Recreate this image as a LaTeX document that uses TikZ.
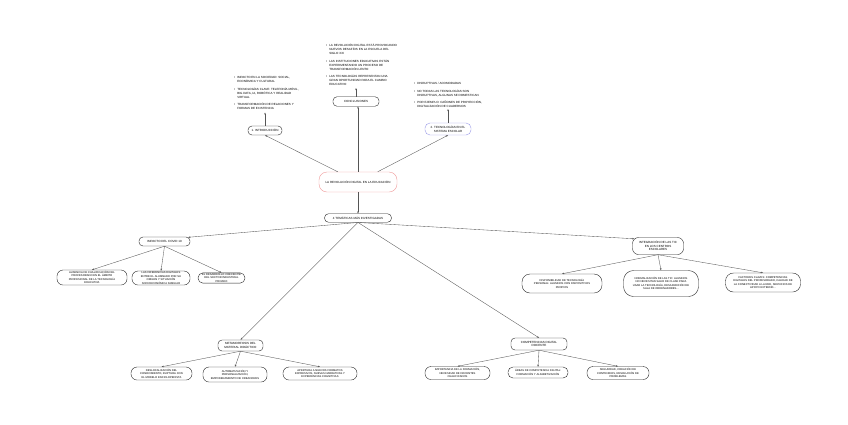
\documentclass[tikz,border=0pt]{standalone}
\usepackage{fontspec}
\setmainfont{Liberation Sans}
\usetikzlibrary{arrows.meta,calc}
\newcommand{\tfont}{\fontsize{3}{3.7}\selectfont}
\newcommand{\cfont}{\fontsize{2.7}{3.4}\selectfont}
\newcommand{\bfont}{\fontsize{3}{4}\selectfont}
\definecolor{pinkc}{HTML}{F09A9A}
\definecolor{lavc}{HTML}{9A9AE8}
\definecolor{linec}{HTML}{555555}
\begin{document}
\begin{tikzpicture}[x=1pt,y=-1pt,
  box/.style={draw=black!85, line width=0.4pt, fill=white, rounded corners=4pt, align=center, font=\tfont, inner sep=0.8pt},
  kid/.style={box, font=\cfont},
  con/.style={draw=linec, line width=0.35pt, -{Stealth[length=2.2pt,width=1.6pt]}},
  blist/.style={anchor=north west, inner sep=0pt, font=\bfont, align=left}]
\useasboundingbox (0,0) rectangle (848,424);
\fill[white] (0,0) rectangle (848,424);

% central
\node[box, draw=pinkc, minimum width=78, minimum height=20, rounded corners=8pt] (c) at (358,182) {LA REVOLUCIÓN DIGITAL EN LA EDUCACIÓN};
\node[box, minimum width=67, minimum height=8.5] (t) at (358,218) {4 TEMÁTICAS MÁS INVESTIGADAS};

% top
\node[box, minimum width=34, minimum height=9] (intro) at (265,130.5) {1. INTRODUCCIÓN};
\node[box, minimum width=46, minimum height=9.5] (concl) at (356,101.5) {CONCLUSIONES};
\node[box, draw=lavc, minimum width=46, minimum height=12, rounded corners=5pt] (tec) at (448,129) {2. TECNOLOGÍAS EN EL\\SISTEMA ESCOLAR};

% bullet lists
\node[blist] (introB) at (234,75) {\begin{tabular}{@{}l@{\hspace{2pt}}l@{}}
\textbullet & IMPACTO EN LA SOCIEDAD: SOCIAL,\\
 & ECONÓMICA Y CULTURAL\\[4pt]
\textbullet & TECNOLOGÍAS CLAVE: TELEFONÍA MÓVIL,\\
 & BIG DATA, IA, ROBÓTICA Y REALIDAD\\
 & VIRTUAL\\[3pt]
\textbullet & TRANSFORMACIÓN DE RELACIONES Y\\
 & FORMAS DE EXISTENCIA
\end{tabular}};
\node[blist] (conclB) at (326,43) {\begin{tabular}{@{}l@{\hspace{2pt}}l@{}}
\textbullet & LA REVOLUCIÓN DIGITAL ESTÁ PROVOCANDO\\
 & NUEVOS DESAFÍOS EN LA ESCUELA DEL\\
 & SIGLO XXI\\[4pt]
\textbullet & LAS INSTITUCIONES EDUCATIVAS ESTÁN\\
 & EXPERIMENTANDO UN PROCESO DE\\
 & TRANSFORMACIÓN LENTO\\[3.5pt]
\textbullet & LAS TECNOLOGÍAS REPRESENTAN UNA\\
 & GRAN OPORTUNIDAD PARA EL CAMBIO\\
 & EDUCATIVO
\end{tabular}};
\node[blist] (tecB) at (414,81) {\begin{tabular}{@{}l@{\hspace{2pt}}l@{}}
\textbullet & DISRUPTIVAS / ACOMODADAS\\[4pt]
\textbullet & NO TODAS LAS TECNOLOGÍAS SON\\
 & DISRUPTIVAS, ALGUNAS SE DOMESTICAN\\[3pt]
\textbullet & POR EJEMPLO: CAÑONES DE PROYECCIÓN,\\
 & DIGITALIZACIÓN DE CUADERNOS
\end{tabular}};
\coordinate (introT) at (265,112.5);
\coordinate (conclT) at (356,88);
\coordinate (tecT) at (448,109);

% four themes
\node[box, minimum width=51, minimum height=9] (covid) at (164.5,241.5) {IMPACTO DEL COVID 19};
\node[box, minimum width=51, minimum height=17, rounded corners=6pt] (integ) at (658,246) {INTEGRACIÓN DE LAS TIC\\EN LOS CENTROS\\ESCOLARES};
\node[box, minimum width=45, minimum height=11] (meta) at (240.5,345.5) {METAMORFOSIS DEL\\MATERIAL DIDÁCTICO};
\node[box, minimum width=56, minimum height=12] (comp) at (539,344) {COMPETENCIAS DIGITAL\\DOCENTE};

% covid children
\node[kid, minimum width=70, minimum height=15, rounded corners=6pt] (cv1) at (92,277.5) {AUSENCIA DE CUALIFICACIÓN DEL\\PROFESORADO EN EL ÁMBITO\\PROFESIONAL DE LA TECNOLOGÍA\\EDUCATIVA};
\node[kid, minimum width=58, minimum height=14, rounded corners=6pt] (cv2) at (161,278) {LAS DIFERENCIAS DIGITALES\\ENTRE EL ALUMNADO POR SU\\ORIGEN Y SITUACIÓN\\SOCIOECONÓMICA FAMILIAR};
\node[kid, minimum width=47, minimum height=10, rounded corners=5pt] (cv3) at (221.5,278) {EL DESARROLLO CRECIENTE\\DEL SECTOR INDUSTRIAL\\PRIVADO};

% integ children
\node[kid, minimum width=80, minimum height=19, rounded corners=8pt] (in1) at (562,283.5) {DISPONIBILIDAD DE TECNOLOGÍA\\PERSONAL: ALUMNOS CON DISPOSITIVOS\\PROPIOS};
\node[kid, minimum width=75, minimum height=26, rounded corners=10pt] (in2) at (661,283.5) {NORMALIZACIÓN DE LAS TIC: ALUMNOS\\NO NECESITAN SALIR DE CLASE PARA\\USAR LA TECNOLOGÍA, DESAPARICIÓN DE\\SALA DE ORDENADORES...};
\node[kid, minimum width=75, minimum height=19, rounded corners=8pt] (in3) at (763,282.5) {FACTORES CLAVES: COMPETENCIAS\\DIGITALES DEL PROFESORADO, CALIDAD DE\\LA CONECTIVIDAD A LA RED, SERVICIOS DE\\APOYO EXTERNO...};

% meta children
\node[kid, minimum width=61, minimum height=13, rounded corners=6pt] (mt1) at (161.5,373.5) {DESLOCALIZACIÓN DEL\\CONOCIMIENTO, RUPTURA CON\\EL MODELO ENCICLOPEDISTA};
\node[kid, minimum width=64, minimum height=15, rounded corners=6pt] (mt2) at (235,374.5) {AUTOMATIZACIÓN Y\\PERSONALIZACIÓN,\\EMPODERAMIENTO DE CREADORES};
\node[kid, minimum width=74, minimum height=13, rounded corners=6pt] (mt3) at (320,373.5) {APERTURA A NUEVOS FORMATOS\\EXPRESIVOS, NUEVAS NARRATIVAS Y\\EXPERIENCIAS COGNITIVAS};

% comp children
\node[kid, minimum width=65, minimum height=13, rounded corners=6pt] (cp1) at (457.5,373) {IMPORTANCIA DE LA FORMACIÓN,\\NECESIDAD DE DOCENTES\\CUALIFICADOS};
\node[kid, minimum width=60, minimum height=11, rounded corners=5pt] (cp2) at (538,372.5) {ÁREAS DE COMPETENCIA DIGITAL:\\FORMACIÓN Y ALFABETIZACIÓN};
\node[kid, minimum width=62, minimum height=13, rounded corners=6pt] (cp3) at (618,373) {SEGURIDAD, CREACIÓN DE\\CONTENIDOS, RESOLUCIÓN DE\\PROBLEMAS};

% connectors
\draw[con] (c) -- (intro.south);
\draw[con] (c.north) -- (c.north |- concl.south);
\draw[con] (c) -- (tec.south);
\draw[con] (intro.north) -- (introT);
\draw[con] (concl.north) -- (conclT);
\draw[con] (tec.north) -- (tecT);
\draw[con] (c.south) -- (c.south |- t.north);

\draw[con] (t.south) -- ($(covid.north east)+(-2,0.5)$);
\draw[con] (t.south) -- ($(integ.north west)+(2,1.5)$);
\draw[con] (t.south) -- (meta.north);
\draw[con] (t.south) -- (comp.north);

\foreach \k in {cv1,cv2,cv3} \draw[con] (covid.south) -- (\k.north);
\foreach \k in {in1,in2,in3} \draw[con] (integ.south) -- (\k.north);
\foreach \k in {mt1,mt2,mt3} \draw[con] (meta.south) -- (\k.north);
\foreach \k in {cp1,cp2,cp3} \draw[con] (comp.south) -- (\k.north);
\end{tikzpicture}
\end{document}
